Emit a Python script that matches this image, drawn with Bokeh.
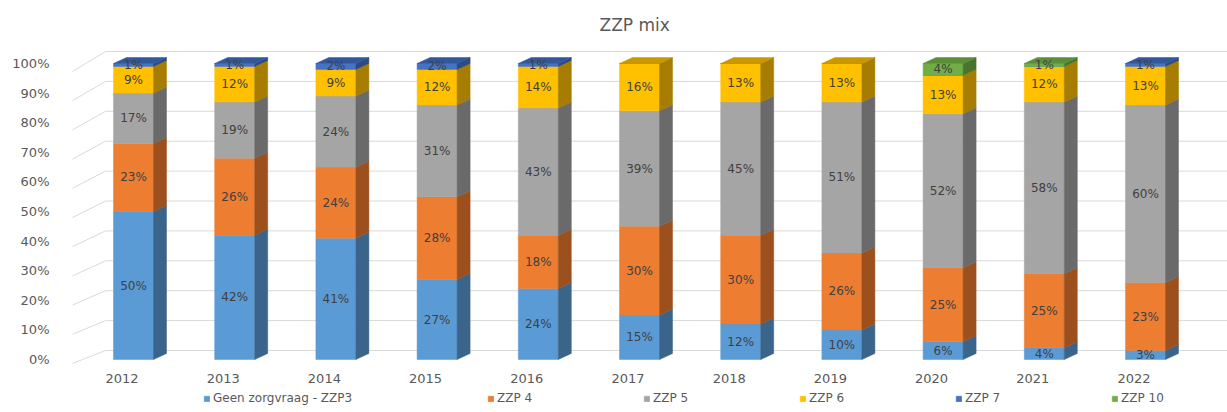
from bokeh.plotting import figure
from bokeh.models import ColumnDataSource, Legend, LegendItem, FixedTicker, PrintfTickFormatter, Range1d
from bokeh.embed import file_html
from bokeh.resources import INLINE
from bokeh.core.properties import value

# ---------------- data ----------------
years = ["2012", "2013", "2014", "2015", "2016", "2017", "2018", "2019", "2020", "2021", "2022"]
geen_zzp3 = [50, 42, 41, 27, 24, 15, 12, 10, 6, 4, 3]
zzp4 = [23, 26, 24, 28, 18, 30, 30, 26, 25, 25, 23]
zzp5 = [17, 19, 24, 31, 43, 39, 45, 51, 52, 58, 60]
zzp6 = [9, 12, 9, 12, 14, 16, 13, 13, 13, 12, 13]
zzp7 = [1, 1, 2, 2, 1, 0, 0, 0, 0, 0, 1]
zzp10 = [0, 0, 0, 0, 0, 0, 0, 0, 4, 1, 0]
series_names = ["Geen zorgvraag - ZZP3", "ZZP 4", "ZZP 5", "ZZP 6", "ZZP 7", "ZZP 10"]
y_ticks = [0, 10, 20, 30, 40, 50, 60, 70, 80, 90, 100]

series_values = [geen_zzp3, zzp4, zzp5, zzp6, zzp7, zzp10]

# ---------------- styles ----------------
front_colors = ["#5B9BD5", "#ED7D31", "#A5A5A5", "#FFC000", "#4472C4", "#70AD47"]
side_colors = ["#3A6489", "#9C501E", "#6A6A6A", "#A67D00", "#2C4B82", "#49742D"]
top_colors = ["#4A80B3", "#C46526", "#878787", "#C99800", "#33579A", "#5A8F38"]
FONT = "DejaVu Sans"
TEXT_GREY = "#595959"

W, H = 1227, 412
B_LEFT, B_RIGHT, B_TOP, B_BOTTOM = 66, 0, 45, 0
PX_X = 101.2     # pixels per category
PX_Y = 2.96      # pixels per percent
ZERO_PX = 359    # pixel row of 0% on the bar fronts
frame_w = W - B_LEFT - B_RIGHT
frame_h = H - B_TOP - B_BOTTOM
x_lo = -(121.5 - B_LEFT) / PX_X
x_hi = x_lo + frame_w / PX_X
y_lo = -(H - B_BOTTOM - ZERO_PX) / PX_Y
y_hi = y_lo + frame_h / PX_Y

BAR_SHIFT = 11.5 / PX_X
HALF_W = 20.0 / PX_X
DX = 13.0 / PX_X
DY = 6.0 / PX_Y

p = figure(width=W, height=H, output_backend="svg", toolbar_location=None,
           x_range=Range1d(x_lo, x_hi), y_range=Range1d(y_lo, y_hi),
           min_border_left=B_LEFT, min_border_right=B_RIGHT,
           min_border_top=B_TOP, min_border_bottom=B_BOTTOM)
p.outline_line_color = None
p.grid.visible = False
p.background_fill_color = "white"

p.title.text = "ZZP mix"
p.title.align = "left"
p.title.text_font = FONT
p.title.text_font_size = "17px"
p.title.text_font_style = "normal"
p.title.text_color = TEXT_GREY
p.title.offset = 599 - B_LEFT
p.title.standoff = 21

# ---------------- 3D back-wall gridlines ----------------
WALL_X0 = (72 - 121.5) / PX_X
WALL_X1 = (105 - 121.5) / PX_X
g_xs, g_ys = [], []
for v in y_ticks:
    front_y = -1.35 + v * 0.9865
    back_y = 3.04 + v * 1.0101
    g_xs.append([WALL_X0, WALL_X1, x_hi])
    g_ys.append([front_y, back_y, back_y])
p.multi_line(g_xs, g_ys, line_color="#D9D9D9", line_width=1)

# ---------------- bars ----------------
n = len(years)
bottoms = [0.0] * n
front_renderers = []
label_x, label_y, label_t = [], [], []
top_series = [None] * n
for k, vals in enumerate(series_values):
    lefts = [i + BAR_SHIFT - HALF_W for i in range(n)]
    rights = [i + BAR_SHIFT + HALF_W for i in range(n)]
    bots = list(bottoms)
    tops = [bots[i] + vals[i] for i in range(n)]
    src = ColumnDataSource(dict(left=lefts, right=rights, bottom=bots, top=tops))
    r = p.quad(left="left", right="right", bottom="bottom", top="top", source=src,
               fill_color=front_colors[k], line_color=front_colors[k], line_width=0.5)
    front_renderers.append(r)
    sx, sy = [], []
    for i in range(n):
        if vals[i] > 0:
            xr = rights[i]
            sx.append([xr, xr + DX, xr + DX, xr])
            sy.append([bots[i], bots[i] + DY, tops[i] + DY, tops[i]])
            label_x.append(i + BAR_SHIFT)
            label_y.append((bots[i] + tops[i]) / 2)
            label_t.append(f"{vals[i]}%")
            top_series[i] = k
    if sx:
        p.patches(sx, sy, fill_color=side_colors[k], line_color=side_colors[k], line_width=0.5)
    bottoms = tops

tx, ty, tc = [], [], []
for i in range(n):
    k = top_series[i]
    xl = i + BAR_SHIFT - HALF_W
    xr = i + BAR_SHIFT + HALF_W
    t = bottoms[i]
    tx.append([xl, xr, xr + DX, xl + DX])
    ty.append([t, t, t + DY, t + DY])
    tc.append(top_colors[k])
p.patches(tx, ty, fill_color=tc, line_color=tc, line_width=0.5)

p.text(x=label_x, y=label_y, text=label_t, text_font=value(FONT), text_font_size="12px",
       text_color="#404040", text_align="center", text_baseline="middle")

# ---------------- axes ----------------
p.xaxis.fixed_location = -(363 - ZERO_PX) / PX_Y
p.xaxis.ticker = FixedTicker(ticks=list(range(n)))
p.xaxis.major_label_overrides = {i: y for i, y in enumerate(years)}
p.xaxis.axis_line_color = None
p.xaxis.major_tick_line_color = None
p.xaxis.minor_tick_line_color = None
p.xaxis.major_label_standoff = 4
p.xaxis.major_label_text_font = FONT
p.xaxis.major_label_text_font_size = "13px"
p.xaxis.major_label_text_color = TEXT_GREY

p.yaxis.ticker = FixedTicker(ticks=y_ticks)
p.yaxis.formatter = PrintfTickFormatter(format="%d%%")
p.yaxis.axis_line_color = None
p.yaxis.major_tick_line_color = None
p.yaxis.minor_tick_line_color = None
p.yaxis.major_label_standoff = 11
p.yaxis.major_label_text_font = FONT
p.yaxis.major_label_text_font_size = "13px"
p.yaxis.major_label_text_color = TEXT_GREY

# ---------------- legend ----------------
def make_legend(items, loc):
    lg = Legend(items=items, location=loc, orientation="horizontal")
    lg.border_line_color = None
    lg.background_fill_alpha = 0
    lg.padding = 0
    lg.margin = 0
    lg.glyph_width = 7
    lg.glyph_height = 7
    lg.label_height = 14
    lg.label_standoff = 3
    lg.label_width = 120
    lg.spacing = 26
    lg.label_text_font = FONT
    lg.label_text_font_size = "12px"
    lg.label_text_color = TEXT_GREY
    return lg

leg_a = make_legend([LegendItem(label=series_names[0], renderers=[front_renderers[0]])],
                    (203 - B_LEFT, H - 405))
leg_b = make_legend([LegendItem(label=series_names[k], renderers=[front_renderers[k]])
                     for k in range(1, len(series_names))], (487 - B_LEFT, H - 405))
p.add_layout(leg_a, "center")
p.add_layout(leg_b, "center")

open("out.html", "w").write(file_html(p, INLINE))
